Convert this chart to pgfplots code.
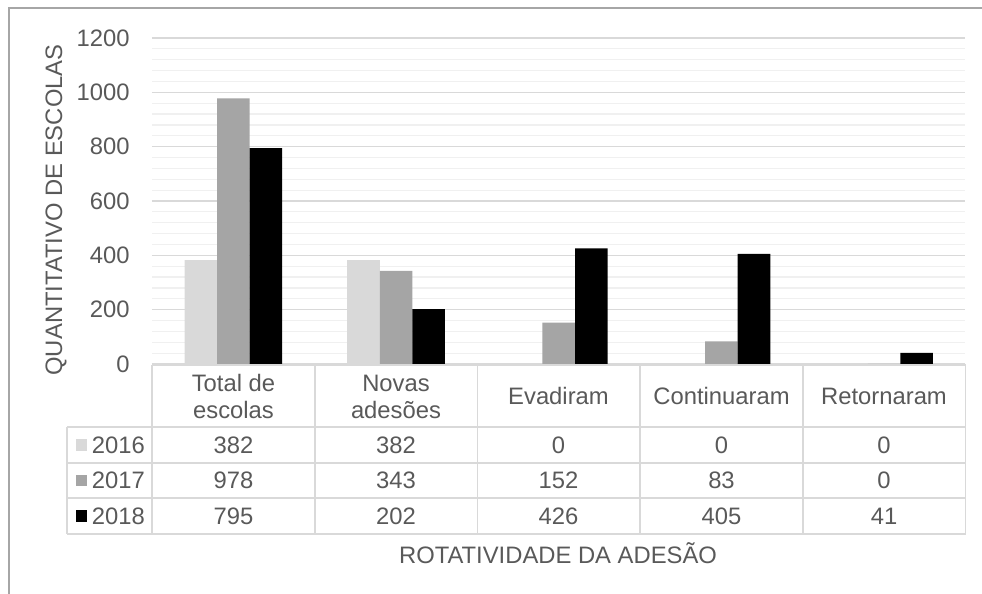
\documentclass[border=0pt]{standalone}
\usepackage{pgfplots}
\pgfplotsset{compat=1.18}
\usepackage{fontspec}
\setmainfont{Liberation Sans}
\definecolor{txt}{HTML}{595959}
\definecolor{gmaj}{HTML}{D9D9D9}
\definecolor{gmin}{HTML}{F0F0F0}
\definecolor{cA}{HTML}{D9D9D9}
\definecolor{cB}{HTML}{A5A5A5}
\definecolor{cC}{HTML}{000000}
\definecolor{tline}{HTML}{D9D9D9}
\definecolor{frame}{HTML}{A6A6A6}
\newcommand{\fs}{\fontsize{11.9}{14}\selectfont}
\begin{document}
\begin{tikzpicture}
\useasboundingbox (0,0) rectangle (491pt,297pt);
\begin{axis}[
  at={(76pt,115pt)}, anchor=south west,
  scale only axis, width=406.75pt, height=163pt,
  xmin=-0.5, xmax=4.5, ymin=0, ymax=1200,
  xtick=\empty,
  ytick={0,200,...,1200},
  minor y tick num=4,
  ymajorgrids, yminorgrids,
  major grid style={draw=gmaj, line width=0.6pt},
  minor grid style={draw=gmin, line width=0.6pt},
  axis x line*=bottom, axis y line*=left,
  axis line style={draw=none},
  tick style={draw=none},
  /pgf/number format/assume math mode=true,
  /pgf/number format/1000 sep={},
  yticklabel style={font=\fs, text=txt, inner sep=0pt, xshift=-11pt},
  clip=false,
]
\addplot[ybar, bar width=0.2, bar shift=-0.2, fill=cA, draw=none] coordinates {(0,382) (1,382) (2,0) (3,0) (4,0)};
\addplot[ybar, bar width=0.2, bar shift=0, fill=cB, draw=none] coordinates {(0,978) (1,343) (2,152) (3,83) (4,0)};
\addplot[ybar, bar width=0.2, bar shift=0.2, fill=cC, draw=none] coordinates {(0,795) (1,202) (2,426) (3,405) (4,41)};
\end{axis}
\begin{scope}[x=0.5pt, y=-0.5pt, yshift=297pt]
  % outer frame (top and left edges visible)
  \draw[frame, line width=0.8pt] (9,600) -- (9,8) -- (990,8);
  % table grid
  \begin{scope}[tline, line width=0.8pt]
    \draw (152,365) -- (965.5,365);
    \foreach \yy in {427,463,498,534} \draw (67,\yy) -- (965.5,\yy);
    \draw (67,427) -- (67,534);
    \foreach \xx in {152,315,477.5,640,803,965.5} \draw (\xx,365) -- (\xx,534);
  \end{scope}
  \begin{scope}[font=\fs, text=txt]
    % header
    \node[align=center, inner sep=0pt] at (233.5,396.5) {Total de\\[-0.5pt]escolas};
    \node[align=center, inner sep=0pt] at (396,396.5) {Novas\\[-0.5pt]adesões};
    \node at (558.5,396) {Evadiram};
    \node at (721.5,396) {Continuaram};
    \node at (884,396) {Retornaram};
    % legend keys
    \fill[cA] (75.7,439) rectangle (87.3,450.6);
    \fill[cB] (75.7,474.6) rectangle (87.3,486.2);
    \fill[cC] (75.7,510.2) rectangle (87.3,521.8);
    \node[anchor=west, inner sep=0pt] at (91.5,445) {2016};
    \node[anchor=west, inner sep=0pt] at (91.5,480.5) {2017};
    \node[anchor=west, inner sep=0pt] at (91.5,516) {2018};
    % values
    \foreach \xx/\a/\b/\c in {233.5/382/978/795, 396/382/343/202, 558.5/0/152/426, 721.5/0/83/405, 884/0/0/41}{
      \node at (\xx,445) {\a};
      \node at (\xx,480.5) {\b};
      \node at (\xx,516) {\c};
    }
    % axis titles
    \node at (558,553) {ROTATIVIDADE DA ADESÃO};
    \node[rotate=90] at (56,210) {QUANTITATIVO DE ESCOLAS};
  \end{scope}
\end{scope}
\end{tikzpicture}
\end{document}
